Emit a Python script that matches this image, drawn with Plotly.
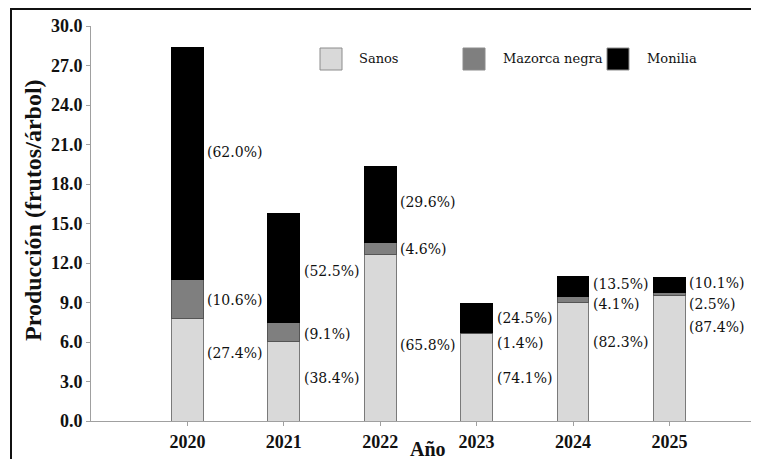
import plotly.graph_objects as go

# data (frutos/arbol)
years = [2020, 2021, 2022, 2023, 2024, 2025]
sanos = [7.78, 6.04, 12.68, 6.62, 9.00, 9.52]
mazorca = [2.98, 1.43, 0.86, 0.12, 0.45, 0.27]
monilia = [17.58, 8.26, 5.77, 2.17, 1.49, 1.14]

# percentage labels
pct_sanos = ['27.4', '38.4', '65.8', '74.1', '82.3', '87.4']
pct_mazorca = ['10.6', '9.1', '4.6', '1.4', '4.1', '2.5']
pct_monilia = ['62.0', '52.5', '29.6', '24.5', '13.5', '10.1']

y_ticks = [0, 3, 6, 9, 12, 15, 18, 21, 24, 27, 30]

# where each label sits (y, in axis units)
label_y_sanos = [5.15, 3.25, 5.8, 3.25, 6.0, 7.15]
label_y_mazorca = [9.2, 6.6, 13.05, 5.95, 8.9, 8.85]
label_y_monilia = [20.4, 11.4, 16.65, 7.8, 10.4, 10.45]

# the page puts the figure 8px in from the top-left (body margin),
# so work in window pixels and keep the page from scrolling
OFF = 8
WIN_W, WIN_H = 759, 467
W, H = WIN_W - OFF, WIN_H - 2 * OFF
L, T, B = 91 - OFF, 26 - OFF, (OFF + H) - 421
R = 0
X_END = OFF + W          # where the plot area stops in the window
BAR_W = 0.33
FONT_B = 'Times New Roman, Liberation Serif, serif'
FONT_R = 'DejaVu Serif'   # regular Times face does not render here

colors = {'Sanos': '#d9d9d9', 'Mazorca negra': '#7f7f7f', 'Monilia': '#000000'}
edges = {'Sanos': '#7a7a7a', 'Mazorca negra': '#555555', 'Monilia': '#000000'}


def px(x):
    # window pixel -> paper
    return (x - OFF - L) / (W - L - R)


def py(y):
    return (H - B - (y - OFF)) / (H - T - B)


fig = go.Figure()
for name, vals in [('Sanos', sanos), ('Mazorca negra', mazorca), ('Monilia', monilia)]:
    fig.add_trace(go.Bar(
        x=years, y=vals, name=name, width=BAR_W,
        marker=dict(color=colors[name], line=dict(color=edges[name], width=1)),
        showlegend=False, hoverinfo='skip'
    ))

# ----- percentage labels
annotations = []
for pcts, ys in [(pct_sanos, label_y_sanos), (pct_mazorca, label_y_mazorca),
                 (pct_monilia, label_y_monilia)]:
    for yr, p, yy in zip(years, pcts, ys):
        annotations.append(dict(
            x=yr + BAR_W / 2, y=yy, xref='x', yref='y', text='(' + p + '%)',
            showarrow=False, xanchor='left', yanchor='middle', xshift=2,
            font=dict(family=FONT_R, size=14, color='#111111')
        ))

# ----- hand-made legend
shapes = []
legend_items = [('Sanos', 320, 357), ('Mazorca negra', 463, 501), ('Monilia', 607, 645)]
for name, bx, tx in legend_items:
    shapes.append(dict(
        type='rect', xref='paper', yref='paper',
        x0=px(bx), x1=px(bx + 22), y0=py(70), y1=py(48),
        fillcolor=colors[name], line=dict(color='#8c8c8c', width=1)
    ))
    annotations.append(dict(
        x=px(tx), y=py(58), xref='paper', yref='paper', text=name,
        showarrow=False, xanchor='left', yanchor='middle',
        font=dict(family=FONT_R, size=13, color='#111111')
    ))

# outer frame (cut by the picture on the right and bottom)
shapes.append(dict(type='line', xref='paper', yref='paper',
                   x0=px(10), x1=px(X_END), y0=py(9), y1=py(9),
                   line=dict(color='#111111', width=2), layer='above'))
shapes.append(dict(type='line', xref='paper', yref='paper',
                   x0=px(11), x1=px(11), y0=py(9), y1=py(OFF + H),
                   line=dict(color='#111111', width=2), layer='above'))

# axis titles
annotations.append(dict(
    x=px(33), y=py(210), xref='paper', yref='paper',
    text='<b>Producción (frutos/árbol)</b>', textangle=-90, showarrow=False,
    xanchor='center', yanchor='middle',
    font=dict(family=FONT_B, size=24, color='#111111')
))
annotations.append(dict(
    x=px(428), y=py(449), xref='paper', yref='paper',
    text='<b>Año</b>', showarrow=False, xanchor='center', yanchor='middle',
    font=dict(family=FONT_B, size=20, color='#111111')
))

fig.update_layout(
    width=W, height=H,
    margin=dict(l=L, r=R, t=T, b=B),
    barmode='stack',
    plot_bgcolor='white', paper_bgcolor='white',
    showlegend=False,
    annotations=annotations,
    shapes=shapes,
    xaxis=dict(
        range=[2019, 2019 + (X_END - 91) / 96.4], tickvals=years,
        ticktext=['<b>%d</b>' % y for y in years],
        showgrid=False, zeroline=False, showline=True, linecolor='#a0a0a0', linewidth=1,
        ticks='outside', ticklen=4, tickcolor='#a0a0a0',
        tickfont=dict(family=FONT_B, size=18, color='#111111')
    ),
    yaxis=dict(
        range=[0, 30], tickvals=y_ticks, ticktext=['<b>%.1f</b>' % v for v in y_ticks],
        showgrid=False, zeroline=False, showline=True, linecolor='#a0a0a0', linewidth=1,
        ticks='outside', ticklen=4, tickcolor='#a0a0a0',
        tickfont=dict(family=FONT_B, size=18, color='#111111')
    ),
)

fig.write_html("out.html")
